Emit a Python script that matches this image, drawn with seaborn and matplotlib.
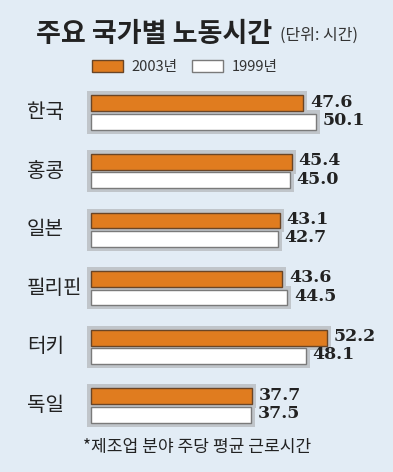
import numpy as np
import pandas as pd
import matplotlib
matplotlib.use("Agg")
import matplotlib.pyplot as plt
import matplotlib.transforms as mtransforms
from matplotlib.patches import Rectangle, Patch
import seaborn as sns

# ---------------------------------------------------------------------
# data (주당 평균 근로시간, 제조업)
# ---------------------------------------------------------------------
countries = ['한국', '홍콩', '일본', '필리핀', '터키', '독일']
hours_2003 = [47.6, 45.4, 43.1, 43.6, 52.2, 37.7]
hours_1999 = [50.1, 45.0, 42.7, 44.5, 48.1, 37.5]
years = ['2003년', '1999년']

df = pd.DataFrame({
    'country': countries * 2,
    'hours': hours_2003 + hours_1999,
    'year': [years[0]] * len(countries) + [years[1]] * len(countries),
})

# ---------------------------------------------------------------------
# style
# ---------------------------------------------------------------------
sns.set_theme(style='white')
plt.rcParams['font.family'] = ['Noto Sans CJK KR', 'DejaVu Sans']

BG = '#e2ecf5'
ORANGE = '#e07c1f'
SHADOW = '#c0c5ca'
TEXT = '#222222'

W, H = 393, 472
fig = plt.figure(figsize=(W / 100, H / 100), dpi=100, facecolor=BG)
ax = fig.add_axes([0, 0, 1, 1])
ax.set_facecolor(BG)

sns.barplot(data=df, x='hours', y='country', hue='year', hue_order=years,
            orient='h', palette={years[0]: ORANGE, years[1]: 'white'},
            saturation=1, width=0.63, gap=0.14, errorbar=None,
            legend=False, ax=ax)

# pixel x = 57 + 5.17 * value ; group pitch 58.6 px, first group centre 112.5 px
ax.set_xlim(-57 / 5.17, (W - 57) / 5.17)
ax.set_ylim((H - 112.5) / 58.6, -112.5 / 58.6)
ax.set_axis_off()

x0 = 6.6          # bars are cut off at the left (broken axis)
pad_x = 4 / 5.17
pad_y = 4 / 58.6
edges = ['#6a4526', '#7a7a7a']

for cont, ec in zip(ax.containers, edges):
    for bar in cont:
        val = bar.get_width()
        bar.set_x(x0)
        bar.set_width(val - x0)
        bar.set_edgecolor(ec)
        bar.set_linewidth(1.0)
        bar.set_zorder(3)
        y, h = bar.get_y(), bar.get_height()
        ax.add_patch(Rectangle((x0 - pad_x, y - pad_y), val - x0 + 2 * pad_x,
                               h + 2 * pad_y, facecolor=SHADOW,
                               edgecolor='none', zorder=2))
        ax.text(val + pad_x + 0.55, y + h / 2 - 0.02, f'{val:.1f}',
                ha='left', va='center', fontsize=12.5, fontweight='bold',
                family='DejaVu Serif', color=TEXT, zorder=4)

# country names
trans = mtransforms.blended_transform_factory(fig.transFigure, ax.transData)
for i, name in enumerate(countries):
    ax.text(27 / W, i, name, transform=trans, ha='left', va='center',
            fontsize=14.5, color=TEXT)

# title
fig.text(36 / W, 1 - 34 / H, '주요 국가별 노동시간', ha='left', va='center',
         fontsize=19.5, fontweight='bold', color=TEXT)
fig.text(280 / W, 1 - 35 / H, '(단위: 시간)', ha='left', va='center',
         fontsize=11.5, color='#333333')

# legend
handles = [Patch(facecolor=ORANGE, edgecolor='#6a4526', linewidth=1.0),
           Patch(facecolor='white', edgecolor='#7a7a7a', linewidth=1.0)]
fig.legend(handles, years, loc='center left',
           bbox_to_anchor=(85 / W, 1 - 67 / H), ncol=2, frameon=False,
           fontsize=10.5, handlelength=2.1, handleheight=0.9,
           handletextpad=0.6, columnspacing=1.0, borderpad=0,
           labelcolor='#333333')

# footnote
fig.text(83 / W, 1 - 447 / H, '*제조업 분야 주당 평균 근로시간', ha='left',
         va='center', fontsize=12.3, color=TEXT)

fig.savefig('out.png', dpi=100, facecolor=BG)
